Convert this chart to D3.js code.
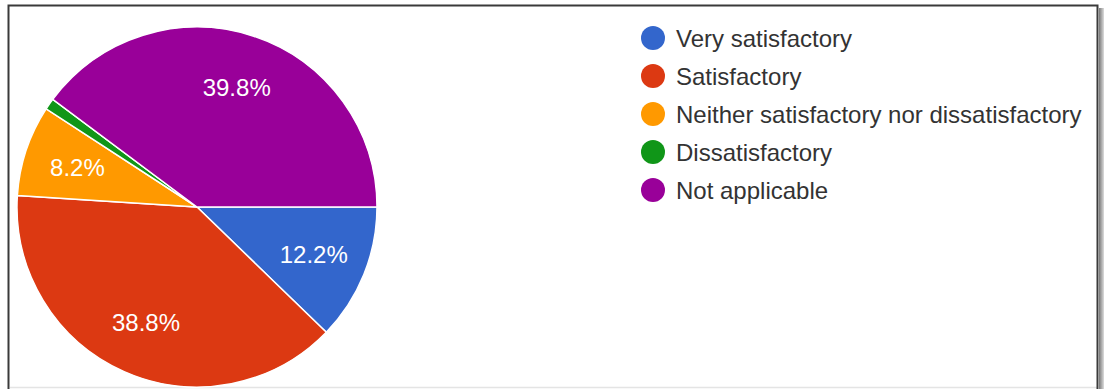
<!DOCTYPE html>
<html>
<head>
<meta charset="utf-8">
<script src="https://cdn.jsdelivr.net/npm/d3@7"></script>
<style>
  body { margin: 0; background: #fff; }
  svg { display: block; font-family: "Liberation Sans", Arial, sans-serif; }
</style>
</head>
<body>
<svg id="chart" width="1104" height="389"></svg>
<script>
// survey answers (counts out of 98 responses)
const categories = ['Very satisfactory', 'Satisfactory', 'Neither satisfactory nor dissatisfactory', 'Dissatisfactory', 'Not applicable'];
const counts = [12, 38, 8, 1, 39];
const percentLabels = ['12.2%', '38.8%', '8.2%', '', '39.8%'];
const colors = ['#3366cc', '#dc3912', '#ff9900', '#109618', '#990099'];

const svg = d3.select('#chart');

// frame around the screenshot
const defs = svg.append('defs');
const grad = defs.append('linearGradient').attr('id', 'shadow').attr('x1', 0).attr('x2', 1);
grad.append('stop').attr('offset', 0).attr('stop-color', '#777');
grad.append('stop').attr('offset', 1).attr('stop-color', '#ddd');
svg.append('rect').attr('x', 1099).attr('y', 8).attr('width', 5).attr('height', 381).attr('fill', 'url(#shadow)');
svg.append('line').attr('x1', 10).attr('x2', 1097).attr('y1', 387.5).attr('y2', 387.5)
  .attr('stroke', '#e4e4e4').attr('stroke-width', 1.5);
svg.append('path').attr('d', 'M8.5,389 V5.5 H1097.5 V389')
  .attr('fill', 'none').attr('stroke', '#3a3a3a').attr('stroke-width', 2);

// pie
const cx = 197, cy = 207, radius = 180;
const pie = d3.pie().sort(null).startAngle(Math.PI / 2).endAngle(Math.PI / 2 + 2 * Math.PI);
const arcs = pie(counts);
const arc = d3.arc().innerRadius(0).outerRadius(radius);
const labelArc = d3.arc().innerRadius(radius * 0.7).outerRadius(radius * 0.7);

const g = svg.append('g').attr('transform', `translate(${cx},${cy})`);
g.selectAll('path.slice')
  .data(arcs)
  .enter()
  .append('path')
  .attr('class', 'slice')
  .attr('d', arc)
  .attr('fill', (d, i) => colors[i])
  .attr('stroke', '#fff')
  .attr('stroke-width', 1.5);

g.selectAll('text.pct')
  .data(arcs)
  .enter()
  .append('text')
  .attr('class', 'pct')
  .attr('transform', d => `translate(${labelArc.centroid(d)})`)
  .attr('text-anchor', 'middle')
  .attr('dominant-baseline', 'central')
  .attr('fill', '#fff')
  .style('font-size', '24px')
  .text((d, i) => percentLabels[i]);

// legend
const legend = svg.append('g').attr('transform', 'translate(653,38)');
const rows = legend.selectAll('g.row')
  .data(categories)
  .enter()
  .append('g')
  .attr('class', 'row')
  .attr('transform', (d, i) => `translate(0,${i * 38})`);
rows.append('circle').attr('r', 12).attr('fill', (d, i) => colors[i]);
rows.append('text')
  .attr('x', 23)
  .attr('dominant-baseline', 'central')
  .attr('fill', '#333')
  .style('font-size', '24px')
  .text(d => d);
</script>
</body>
</html>
